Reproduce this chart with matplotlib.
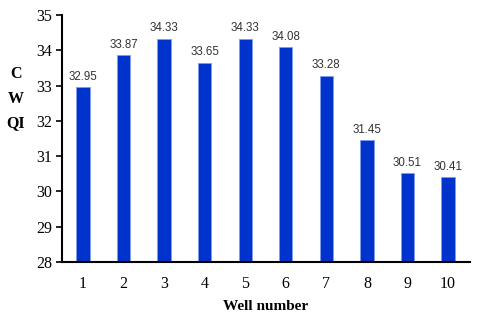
import matplotlib
matplotlib.use("Agg")
import matplotlib.pyplot as plt

wells = [1, 2, 3, 4, 5, 6, 7, 8, 9, 10]
cwqi = [32.95, 33.87, 34.33, 33.65, 34.33, 34.08, 33.28, 31.45, 30.51, 30.41]
value_labels = ["32.95", "33.87", "34.33", "33.65", "34.33", "34.08", "33.28", "31.45", "30.51", "30.41"]
yticks = [28, 29, 30, 31, 32, 33, 34, 35]

fig = plt.figure(figsize=(4.8, 3.18), dpi=100)
ax = fig.add_axes([0.129, 0.176, 0.850, 0.777])

bars = ax.bar(wells, [v - 28 for v in cwqi], bottom=28, width=0.33,
              color="#0033CC", edgecolor="#7F9BEA", linewidth=0.6)
for x, v, lab in zip(wells, cwqi, value_labels):
    ax.text(x, v + 0.12, lab, ha="center", va="bottom", fontsize=8.3,
            color="#333333", family="Liberation Sans")

ax.set_xlim(0.48, 10.54)
ax.set_ylim(28, 35)
ax.set_yticks(yticks)
ax.set_xticks(wells)
ax.tick_params(axis="x", length=0, pad=10, labelsize=11.5)
ax.tick_params(axis="y", length=4, direction="out", width=1.2, labelsize=11.5, pad=3)
for lab in ax.get_xticklabels() + ax.get_yticklabels():
    lab.set_family("Liberation Serif")
for s in ["top", "right"]:
    ax.spines[s].set_visible(False)
ax.spines["left"].set_linewidth(1.5)
ax.spines["bottom"].set_linewidth(1.5)

ax.set_xlabel("Well number", family="Liberation Serif", fontweight="bold", fontsize=11, labelpad=6)
fig.text(0.033, 0.69, "C\nW\nQI", family="Liberation Serif", fontweight="bold",
         fontsize=11.5, ha="center", va="center", linespacing=1.75)

fig.savefig("out.png", dpi=100)
